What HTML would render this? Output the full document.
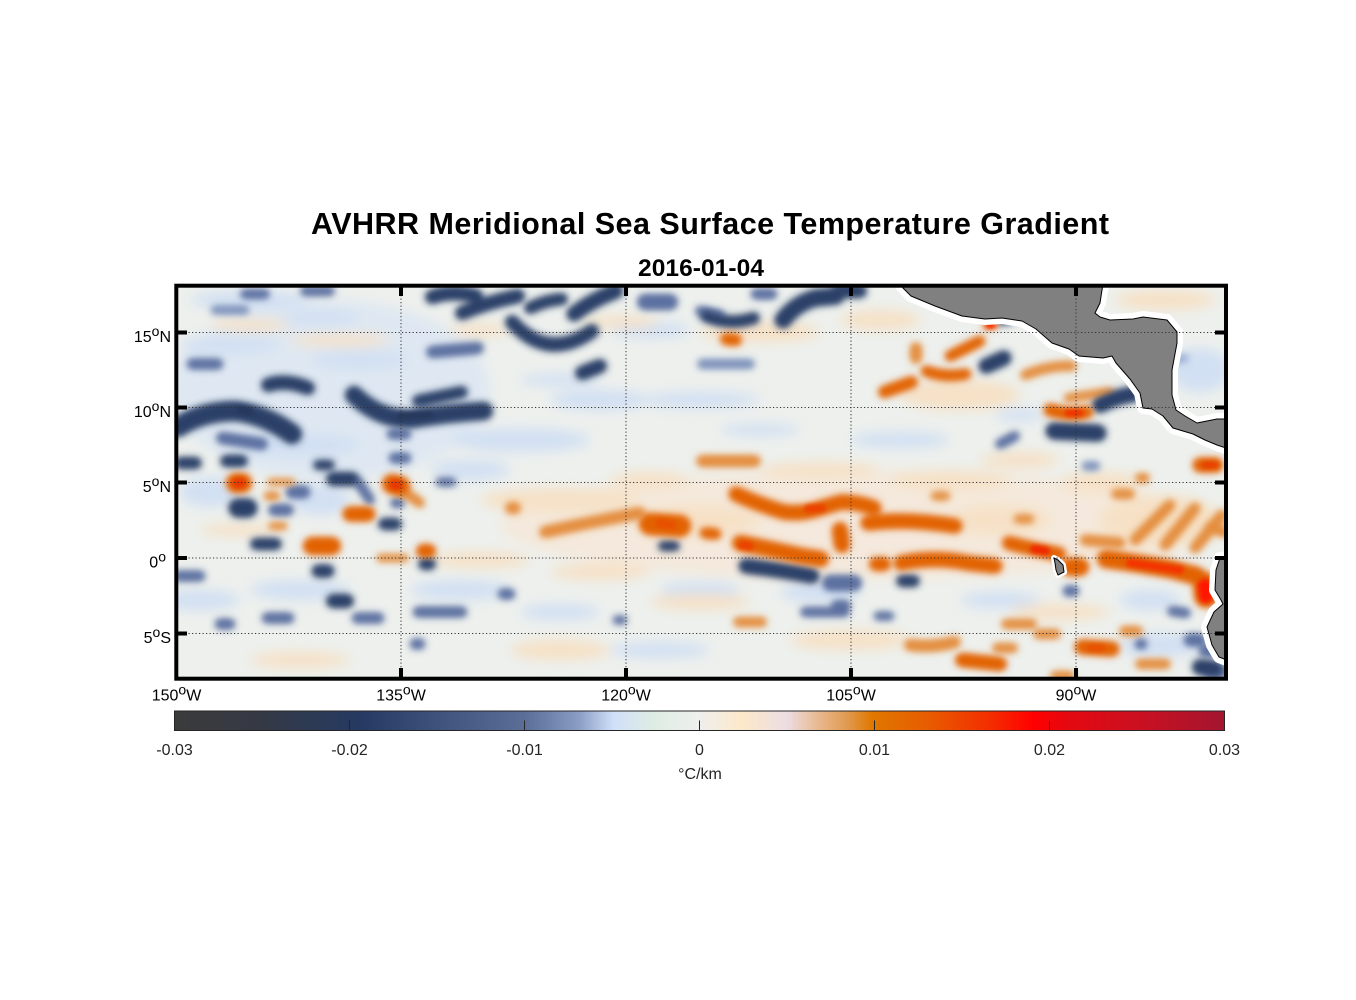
<!DOCTYPE html>
<html><head><meta charset="utf-8"><style>html,body{margin:0;padding:0;background:#fff}svg{display:block}</style></head>
<body>
<svg width="1356" height="1000" viewBox="0 0 1356 1000" xmlns="http://www.w3.org/2000/svg" xmlns:xlink="http://www.w3.org/1999/xlink" font-family="'Liberation Sans', Arial, sans-serif">
<defs>
<clipPath id="clip"><rect x="176" y="286" width="1050" height="393"/></clipPath>
<filter id="fL" filterUnits="userSpaceOnUse" x="140" y="250" width="1130" height="470"><feGaussianBlur stdDeviation="6"/></filter>
<filter id="fH" filterUnits="userSpaceOnUse" x="140" y="250" width="1130" height="470"><feGaussianBlur stdDeviation="4.5"/></filter>
<filter id="fM" filterUnits="userSpaceOnUse" x="140" y="250" width="1130" height="470"><feGaussianBlur stdDeviation="3.2"/></filter>
<filter id="fS" filterUnits="userSpaceOnUse" x="140" y="250" width="1130" height="470"><feGaussianBlur stdDeviation="2"/></filter>
<linearGradient id="cb" x1="0" x2="1" y1="0" y2="0">
<stop offset="0" stop-color="#3b3b3c"/>
<stop offset="0.08" stop-color="#353944"/>
<stop offset="0.177" stop-color="#253a62"/>
<stop offset="0.333" stop-color="#5a6e98"/>
<stop offset="0.353" stop-color="#6a7fa8"/>
<stop offset="0.385" stop-color="#8a9dc4"/>
<stop offset="0.418" stop-color="#cfe0f8"/>
<stop offset="0.46" stop-color="#e0ede3"/>
<stop offset="0.5" stop-color="#efefef"/>
<stop offset="0.54" stop-color="#fde9c9"/>
<stop offset="0.583" stop-color="#ecdde3"/>
<stop offset="0.618" stop-color="#e8b383"/>
<stop offset="0.641" stop-color="#e09a50"/>
<stop offset="0.664" stop-color="#e07800"/>
<stop offset="0.721" stop-color="#e85a00"/>
<stop offset="0.78" stop-color="#f52a00"/>
<stop offset="0.818" stop-color="#ff0000"/>
<stop offset="0.85" stop-color="#e50810"/>
<stop offset="0.915" stop-color="#cc1020"/>
<stop offset="1" stop-color="#a31530"/>
</linearGradient>

<g id="darkB" fill="none" stroke="#2c4068" stroke-linecap="round" stroke-linejoin="round">
<path d="M432,297 Q450,290 476,296" stroke-width="12"/>
<path d="M462,313 Q488,302 518,296" stroke-width="12"/>
<path d="M530,308 Q546,300 562,299" stroke-width="10"/>
<path d="M574,314 Q592,300 616,291" stroke-width="13"/>
<path d="M512,322 Q548,362 592,331" stroke-width="12"/>
<path d="M582,373 L600,366" stroke-width="12"/>
<path d="M418,401 L462,392" stroke-width="10"/>
<path d="M706,316 Q730,326 754,318" stroke-width="10"/>
<path d="M783,320 Q795,304 815,298 L836,296" stroke-width="15"/>
<path d="M838,291 L860,291" stroke-width="12"/>
<path d="M268,385 Q286,379 308,388" stroke-width="12"/>
<path d="M354,395 Q380,420 412,419 Q448,413 484,411" stroke-width="16"/>
<path d="M178,427 Q202,411 236,411 Q266,415 292,434" stroke-width="18"/>
<path d="M180,463 L196,463" stroke-width="10"/>
<path d="M226,461 L242,461" stroke-width="10"/>
<path d="M318,465 L330,465" stroke-width="8"/>
<path d="M333,479 L352,479" stroke-width="12"/>
<path d="M238,508 L248,508" stroke-width="17"/>
<path d="M384,524 L396,524" stroke-width="10"/>
<path d="M256,544 L276,544" stroke-width="10"/>
<path d="M318,571 L328,571" stroke-width="11"/>
<path d="M333,601 L347,601" stroke-width="12"/>
<path d="M424,564 L430,564" stroke-width="10"/>
<path d="M663,546 L675,546" stroke-width="8"/>
<path d="M746,566 Q780,570 812,576" stroke-width="13"/>
<path d="M902,581 L914,581" stroke-width="10"/>
<path d="M986,366 L1004,358" stroke-width="13"/>
<path d="M1000,321 L1010,320" stroke-width="6"/>
<path d="M1100,405 Q1115,397 1134,394" stroke-width="14"/>
<path d="M1054,431 L1098,433" stroke-width="15"/>
<path d="M1200,667 L1215,669" stroke-width="14"/>
</g>

<g id="midB" fill="none" stroke="#5b70a0" stroke-linecap="round" stroke-linejoin="round">
<path d="M645,302 L670,302" stroke-width="14"/>
<path d="M432,352 L478,348" stroke-width="10"/>
<path d="M756,294 L772,294" stroke-width="9"/>
<path d="M700,311 L720,315" stroke-width="8"/>
<path d="M702,364 L750,364" stroke-width="8" stroke="#7d92bb"/>
<path d="M192,364 L218,364" stroke-width="9"/>
<path d="M215,310 L245,310" stroke-width="7" stroke="#7d92bb"/>
<path d="M245,294 L265,294" stroke-width="8"/>
<path d="M305,291 L330,291" stroke-width="8"/>
<path d="M222,438 L262,444" stroke-width="10"/>
<path d="M392,434 L406,434" stroke-width="9"/>
<path d="M394,458 L406,458" stroke-width="9"/>
<path d="M358,482 L370,500" stroke-width="8"/>
<path d="M292,492 L304,492" stroke-width="11"/>
<path d="M274,510 L288,510" stroke-width="10"/>
<path d="M395,503 L400,503" stroke-width="8"/>
<path d="M440,482 L452,482" stroke-width="7"/>
<path d="M178,576 L200,576" stroke-width="9"/>
<path d="M267,618 L289,618" stroke-width="9"/>
<path d="M357,618 L379,618" stroke-width="9"/>
<path d="M220,624 L230,624" stroke-width="9"/>
<path d="M418,612 L462,612" stroke-width="9"/>
<path d="M415,644 L420,644" stroke-width="9"/>
<path d="M503,594 L510,594" stroke-width="9"/>
<path d="M830,583 L854,583" stroke-width="14"/>
<path d="M836,605 L846,605" stroke-width="8"/>
<path d="M878,616 L890,616" stroke-width="7"/>
<path d="M617,620 L623,620" stroke-width="7"/>
<path d="M805,612 L845,612" stroke-width="8"/>
<path d="M1068,591 L1074,591" stroke-width="9"/>
<path d="M1000,444 L1015,436" stroke-width="8"/>
<path d="M1086,466 L1096,466" stroke-width="7" stroke="#7d92bb"/>
<path d="M1190,640 L1200,640" stroke-width="11"/>
<path d="M1140,644 L1142,644" stroke-width="9"/>
<path d="M1172,611 L1186,613" stroke-width="8"/>
<path d="M1205,651 L1212,651" stroke-width="11"/>
<path d="M1210,672 L1222,672" stroke-width="10"/>
<path d="M1175,360 L1185,358" stroke-width="6" stroke="#9aaed2"/>
</g>

<g id="strO" fill="none" stroke="#e26200" stroke-linecap="round" stroke-linejoin="round">
<path d="M236,483 L242,483" stroke-width="18"/>
<path d="M392,484 L400,486" stroke-width="18"/>
<path d="M350,514 L368,514" stroke-width="13"/>
<path d="M312,546 L332,546" stroke-width="16"/>
<path d="M423,551 L429,551" stroke-width="12"/>
<path d="M650,524 L680,526" stroke-width="20"/>
<path d="M736,494 Q760,505 784,512 Q800,514 814,510 Q828,506 841,502 Q858,502 874,508" stroke-width="13"/>
<path d="M868,523 Q908,518 955,526" stroke-width="13"/>
<path d="M840,530 L842,545" stroke-width="14"/>
<path d="M740,543 Q770,549 801,556 L821,559" stroke-width="14"/>
<path d="M901,563 Q935,556 968,563 L995,566" stroke-width="13"/>
<path d="M876,564 L884,564" stroke-width="12"/>
<path d="M1009,543 Q1036,550 1059,554" stroke-width="12"/>
<path d="M1070,567 L1080,567" stroke-width="16"/>
<path d="M1106,559 Q1136,563 1170,569 L1197,576" stroke-width="16"/>
<path d="M1205,584 L1206,596" stroke-width="22"/>
<path d="M1200,465 L1216,465" stroke-width="13"/>
<path d="M1082,647 L1112,649" stroke-width="13"/>
<path d="M962,660 L1000,664" stroke-width="12"/>
<path d="M884,392 L912,382" stroke-width="10"/>
<path d="M926,371 Q945,378 966,374" stroke-width="9"/>
<path d="M950,356 L980,341" stroke-width="9"/>
<path d="M1050,410 Q1070,416 1087,412" stroke-width="11"/>
<path d="M726,339 L736,340" stroke-width="10"/>
<path d="M987,325 L994,324" stroke-width="7"/>
<path d="M705,533 L716,534" stroke-width="9"/>
</g>

<g id="modO" fill="none" stroke="#e48d3c" stroke-linecap="round" stroke-linejoin="round">
<path d="M545,532 Q590,522 640,513" stroke-width="10"/>
<path d="M1135,540 L1170,505" stroke-width="9"/>
<path d="M1165,545 L1195,508" stroke-width="9"/>
<path d="M1195,548 L1222,515" stroke-width="9"/>
<path d="M1085,540 L1120,543" stroke-width="9"/>
<path d="M1116,494 L1130,494" stroke-width="8"/>
<path d="M1124,631 L1138,631" stroke-width="8"/>
<path d="M1140,664 L1166,664" stroke-width="8"/>
<path d="M910,645 Q932,648 955,642" stroke-width="10"/>
<path d="M1006,624 L1032,624" stroke-width="8"/>
<path d="M738,622 L762,622" stroke-width="8"/>
<path d="M1038,634 L1056,634" stroke-width="8"/>
<path d="M1025,375 Q1050,365 1072,366" stroke-width="8"/>
<path d="M1068,398 L1110,392" stroke-width="7"/>
<path d="M916,348 L916,358" stroke-width="10"/>
<path d="M702,461 L755,461" stroke-width="10"/>
<path d="M1055,676 L1070,676" stroke-width="8"/>
<path d="M268,496 L276,496" stroke-width="7"/>
<path d="M272,526 L284,526" stroke-width="6"/>
<path d="M511,508 L515,508" stroke-width="10"/>
<path d="M1018,519 L1030,519" stroke-width="7"/>
<path d="M1140,478 L1145,478" stroke-width="8"/>
<path d="M935,496 L946,496" stroke-width="7"/>
<path d="M380,558 L405,558" stroke-width="6"/>
<path d="M400,490 Q412,497 420,503" stroke-width="8"/>
<path d="M1210,527 L1224,532" stroke-width="9"/>
<path d="M997,648 L1013,648" stroke-width="8"/>
<path d="M270,482 L292,482" stroke-width="5"/>
<path d="M1210,630 L1216,632" stroke-width="6"/>
</g>
</defs>

<rect width="1356" height="1000" fill="#fff"/>

<g clip-path="url(#clip)">
<rect x="170" y="280" width="1060" height="405" fill="#edf0ed"/>
<g filter="url(#fL)">
<ellipse cx="330" cy="390" rx="160" ry="90" fill="#dfe8f2"/>
<ellipse cx="860" cy="525" rx="360" ry="55" fill="#f4e9dc"/>
<g fill="#d2e0f3">
<ellipse cx="250" cy="300" rx="60" ry="9"/>
<ellipse cx="320" cy="318" rx="40" ry="8"/>
<ellipse cx="230" cy="345" rx="50" ry="10"/>
<ellipse cx="360" cy="360" rx="50" ry="10"/>
<ellipse cx="300" cy="445" rx="60" ry="12"/>
<ellipse cx="520" cy="440" rx="70" ry="12"/>
<ellipse cx="600" cy="400" rx="50" ry="10"/>
<ellipse cx="700" cy="400" rx="60" ry="8"/>
<ellipse cx="760" cy="430" rx="40" ry="6"/>
<ellipse cx="470" cy="470" rx="40" ry="10"/>
<ellipse cx="210" cy="492" rx="30" ry="15"/>
<ellipse cx="320" cy="500" rx="30" ry="15"/>
<ellipse cx="200" cy="600" rx="40" ry="10"/>
<ellipse cx="300" cy="590" rx="50" ry="10"/>
<ellipse cx="460" cy="590" rx="50" ry="10"/>
<ellipse cx="560" cy="612" rx="40" ry="8"/>
<ellipse cx="700" cy="590" rx="40" ry="8"/>
<ellipse cx="820" cy="592" rx="40" ry="10"/>
<ellipse cx="660" cy="650" rx="50" ry="8"/>
<ellipse cx="900" cy="440" rx="50" ry="8"/>
<ellipse cx="1000" cy="600" rx="40" ry="8"/>
<ellipse cx="1150" cy="600" rx="30" ry="10"/>
<ellipse cx="1200" cy="370" rx="30" ry="22"/>
<ellipse cx="650" cy="330" rx="40" ry="8"/>
<ellipse cx="560" cy="380" rx="40" ry="6"/>
<ellipse cx="1020" cy="415" rx="25" ry="6"/>
<ellipse cx="1160" cy="645" rx="40" ry="12"/>
</g>
<g fill="#f6e1c6">
<ellipse cx="250" cy="325" rx="40" ry="6"/>
<ellipse cx="340" cy="340" rx="50" ry="6"/>
<ellipse cx="480" cy="330" rx="30" ry="6"/>
<ellipse cx="620" cy="322" rx="40" ry="6"/>
<ellipse cx="760" cy="332" rx="60" ry="10"/>
<ellipse cx="880" cy="320" rx="40" ry="10"/>
<ellipse cx="560" cy="500" rx="80" ry="12"/>
<ellipse cx="700" cy="520" rx="60" ry="15"/>
<ellipse cx="650" cy="480" rx="40" ry="8"/>
<ellipse cx="820" cy="470" rx="60" ry="8"/>
<ellipse cx="950" cy="480" rx="60" ry="10"/>
<ellipse cx="1000" cy="520" rx="50" ry="15"/>
<ellipse cx="480" cy="560" rx="50" ry="8"/>
<ellipse cx="600" cy="572" rx="50" ry="8"/>
<ellipse cx="700" cy="602" rx="50" ry="8"/>
<ellipse cx="560" cy="650" rx="50" ry="10"/>
<ellipse cx="300" cy="660" rx="50" ry="8"/>
<ellipse cx="850" cy="640" rx="60" ry="10"/>
<ellipse cx="1060" cy="612" rx="50" ry="8"/>
<ellipse cx="1160" cy="520" rx="60" ry="25"/>
<ellipse cx="1020" cy="460" rx="40" ry="8"/>
<ellipse cx="1100" cy="482" rx="40" ry="10"/>
<ellipse cx="960" cy="395" rx="60" ry="15"/>
<ellipse cx="1165" cy="300" rx="50" ry="10"/>
<ellipse cx="240" cy="530" rx="40" ry="6"/>
</g>
</g>

<!-- soft halos -->
<g opacity="0.7">
<use xlink:href="#midB" filter="url(#fH)"/>
<use xlink:href="#modO" filter="url(#fH)"/>
<use xlink:href="#darkB" filter="url(#fH)"/>
<use xlink:href="#strO" filter="url(#fH)"/>
</g>
<!-- cores -->
<use xlink:href="#midB" filter="url(#fM)"/>
<use xlink:href="#modO" filter="url(#fM)"/>
<use xlink:href="#darkB" filter="url(#fM)"/>
<use xlink:href="#strO" filter="url(#fM)"/>

<g filter="url(#fS)" fill="none" stroke-linecap="round">
<path d="M237,483 L241,483" stroke="#e83800" stroke-width="10"/>
<path d="M394,485 L398,485" stroke="#e83800" stroke-width="10"/>
<path d="M808,509 L822,508" stroke="#ec4000" stroke-width="8"/>
<path d="M742,545 L750,546" stroke="#ec4000" stroke-width="8"/>
<path d="M1034,549 L1046,551" stroke="#f02800" stroke-width="8"/>
<path d="M1130,563 L1180,570" stroke="#f43000" stroke-width="8"/>
<path d="M1205,586 L1206,596" stroke="#ff1200" stroke-width="14"/>
<path d="M1068,413 L1080,413" stroke="#f03000" stroke-width="7"/>
<path d="M989,325 L992,325" stroke="#ff2000" stroke-width="6"/>
<path d="M1205,465 L1215,465" stroke="#e84000" stroke-width="7"/>
<path d="M660,523 L672,525" stroke="#e85000" stroke-width="9"/>
<path d="M1090,648 L1102,648" stroke="#e85000" stroke-width="7"/>
<path d="M240,410 L250,412" stroke="#26385c" stroke-width="8"/>
<path d="M400,416 L430,415" stroke="#26385c" stroke-width="7"/>
</g>

<!-- land -->
<g stroke="#fff" stroke-width="12" stroke-linejoin="round" fill="#fff">
<polygon points="896,280 903,288 911,296 935,306 962,316 985,319 1002,318 1022,321 1036,329 1052,343 1069,349 1079,356 1103,358 1112,356 1116,363 1130,379 1140,393 1143,408 1152,409 1163,416 1173,428 1193,434 1205,440 1217,445 1232,450 1232,419 1217,419 1197,423 1185,416 1176,410 1172,395 1172,370 1177,343 1177,332 1167,320 1143,317 1133,319 1110,320 1100,317 1095,313 1100,303 1102,290 1104,280"/>
<polygon points="1232,556 1220,558 1216,570 1215,590 1221,600 1223,604 1214,612 1207,627 1212,645 1219,657 1232,662"/>
</g>
<polygon points="1054,558 1058,560 1063,565 1064,572 1058,575 1056,570 1055,563" fill="#fff" stroke="#fff" stroke-width="6" stroke-linejoin="round"/>
<g fill="#808080" stroke="#000" stroke-width="1" stroke-linejoin="round">
<polygon points="896,280 903,288 911,296 935,306 962,316 985,319 1002,318 1022,321 1036,329 1052,343 1069,349 1079,356 1103,358 1112,356 1116,363 1130,379 1140,393 1143,408 1152,409 1163,416 1173,428 1193,434 1205,440 1217,445 1232,450 1232,419 1217,419 1197,423 1185,416 1176,410 1172,395 1172,370 1177,343 1177,332 1167,320 1143,317 1133,319 1110,320 1100,317 1095,313 1100,303 1102,290 1104,280"/>
<polygon points="1232,556 1220,558 1216,570 1215,590 1221,600 1223,604 1214,612 1207,627 1212,645 1219,657 1232,662"/>
<polygon points="1054,558 1058,560 1063,565 1064,572 1058,575 1056,570 1055,563"/>
</g>

<!-- gridlines -->
<g stroke="#333" stroke-width="1" stroke-dasharray="1.2 2.3" fill="none">
<path d="M178,332.5 H1224 M178,407.5 H1224 M178,482.5 H1224 M178,558 H1224 M178,633.5 H1224"/>
<path d="M401,288 V677 M626,288 V677 M851,288 V677 M1076,288 V677"/>
</g>
</g>

<!-- frame -->
<rect x="176.3" y="285.7" width="1049.7" height="393" fill="none" stroke="#000" stroke-width="4"/>
<g stroke="#000" stroke-width="4">
<path d="M176,332.5 H187 M176,407.5 H187 M176,482.5 H187 M176,558 H187 M176,633.5 H187"/>
<path d="M1215,332.5 H1226 M1215,407.5 H1226 M1215,482.5 H1226 M1215,558 H1226 M1215,633.5 H1226"/>
<path d="M401,286 V296 M626,286 V296 M851,286 V296 M1076,286 V296"/>
<path d="M401,668 V678 M626,668 V678 M851,668 V678 M1076,668 V678"/>
</g>

<!-- lat labels -->
<g font-size="16" fill="#000" text-anchor="end">
<text x="171" y="342">15<tspan font-size="14" dy="-6">o</tspan><tspan dy="6">N</tspan></text>
<text x="171" y="417">10<tspan font-size="14" dy="-6">o</tspan><tspan dy="6">N</tspan></text>
<text x="171" y="492">5<tspan font-size="14" dy="-6">o</tspan><tspan dy="6">N</tspan></text>
<text x="166" y="567.5">0<tspan font-size="14" dy="-6">o</tspan></text>
<text x="171" y="643">5<tspan font-size="14" dy="-6">o</tspan><tspan dy="6">S</tspan></text>
</g>
<!-- lon labels -->
<g font-size="16" fill="#000" text-anchor="middle">
<text x="176.5" y="700.5">150<tspan font-size="14" dy="-6">o</tspan><tspan dy="6">W</tspan></text>
<text x="401" y="700.5">135<tspan font-size="14" dy="-6">o</tspan><tspan dy="6">W</tspan></text>
<text x="626" y="700.5">120<tspan font-size="14" dy="-6">o</tspan><tspan dy="6">W</tspan></text>
<text x="851" y="700.5">105<tspan font-size="14" dy="-6">o</tspan><tspan dy="6">W</tspan></text>
<text x="1076" y="700.5">90<tspan font-size="14" dy="-6">o</tspan><tspan dy="6">W</tspan></text>
</g>

<!-- titles -->
<text x="311" y="234" font-size="30.5" font-weight="bold" fill="#000" textLength="798" lengthAdjust="spacing">AVHRR Meridional Sea Surface Temperature Gradient</text>
<text x="638" y="276" font-size="24.5" font-weight="bold" fill="#000" textLength="126" lengthAdjust="spacing">2016-01-04</text>

<!-- colorbar -->
<rect x="174.5" y="711" width="1050" height="19.5" fill="url(#cb)" stroke="#262626" stroke-width="1"/>
<g stroke="#262626" stroke-width="1">
<path d="M349.5,720.5 V730.5 M524.5,720.5 V730.5 M699.5,720.5 V730.5 M874.5,720.5 V730.5 M1049.5,720.5 V730.5"/>
</g>
<g font-size="16" fill="#262626" text-anchor="middle">
<text x="174.5" y="755">-0.03</text>
<text x="349.5" y="755">-0.02</text>
<text x="524.5" y="755">-0.01</text>
<text x="699.5" y="755">0</text>
<text x="874.5" y="755">0.01</text>
<text x="1049.5" y="755">0.02</text>
<text x="1224.5" y="755">0.03</text>
<text x="700" y="779">°C/km</text>
</g>
</svg>
</body></html>
